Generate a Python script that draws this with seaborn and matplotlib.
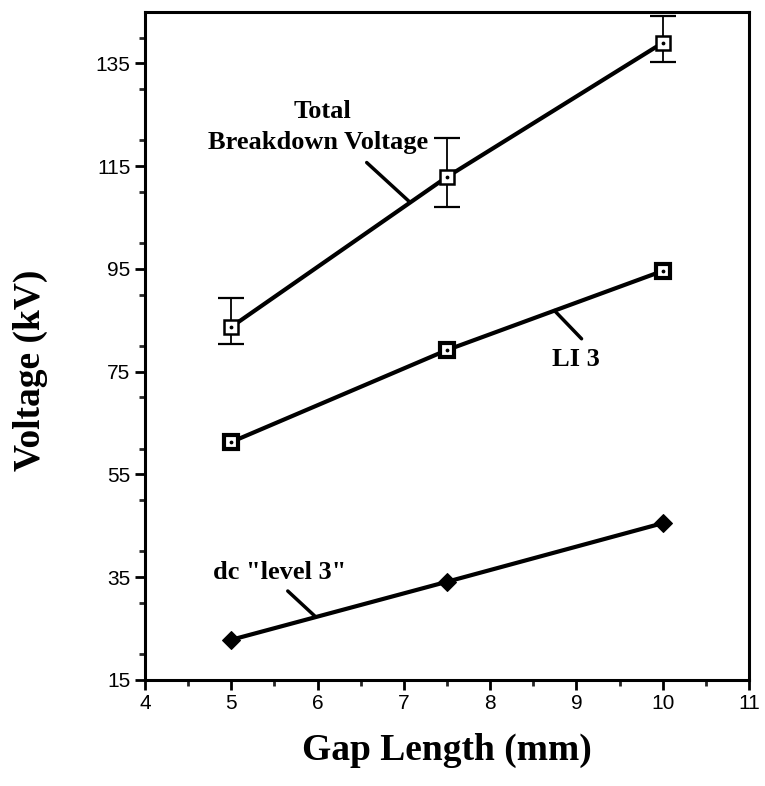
import numpy as np
import pandas as pd
import matplotlib
matplotlib.use("Agg")
import matplotlib.pyplot as plt
import seaborn as sns
from matplotlib.ticker import MultipleLocator

gap_mm = [5.0, 7.5, 10.0]
total_kv = [83.7, 112.9, 139.0]
total_err_hi = [89.3, 120.4, 144.2]
total_err_lo = [80.4, 107.0, 135.2]
li3_kv = [61.3, 79.2, 94.6]
dc_kv = [22.8, 34.1, 45.5]

x_ticks = [4, 5, 6, 7, 8, 9, 10, 11]
y_ticks = [15, 35, 55, 75, 95, 115, 135]

sns.set_theme(style="ticks")
plt.rcParams['font.family'] = ['Liberation Sans', 'DejaVu Sans']
plt.rcParams['text.color'] = 'black'
plt.rcParams['axes.labelcolor'] = 'black'

df = pd.DataFrame({
    "gap": gap_mm * 3,
    "kv": total_kv + li3_kv + dc_kv,
    "series": ["Total"] * 3 + ["LI 3"] * 3 + ["dc"] * 3,
})

fig = plt.figure(figsize=(7.65, 7.86), dpi=100)
ax = fig.add_axes([0.1895, 0.135, 0.7895, 0.8497])

# error bars for total
err_lo = np.array(total_kv) - np.array(total_err_lo)
err_hi = np.array(total_err_hi) - np.array(total_kv)
ax.errorbar(gap_mm, total_kv, yerr=[err_lo, err_hi], fmt='none', ecolor='black',
            elinewidth=1.3, capsize=9.5, capthick=1.6, zorder=2)

sns.lineplot(data=df[df.series == "Total"], x="gap", y="kv", ax=ax, color="black",
             linewidth=3.0, marker="s", markersize=10, markerfacecolor="white",
             markeredgecolor="black", markeredgewidth=1.8, zorder=3, legend=False)
sns.lineplot(data=df[df.series == "LI 3"], x="gap", y="kv", ax=ax, color="black",
             linewidth=3.0, marker="s", markersize=10, markerfacecolor="white",
             markeredgecolor="black", markeredgewidth=3.0, zorder=3, legend=False)
sns.lineplot(data=df[df.series == "dc"], x="gap", y="kv", ax=ax, color="black",
             linewidth=3.0, marker="D", markersize=9, markerfacecolor="black",
             markeredgecolor="black", zorder=3, legend=False)
# center dots for square markers
sub = df[df.series.isin(["Total", "LI 3"])]
ax.scatter(sub.gap, sub.kv, s=3, color="black", zorder=4)

ax.set_xlim(4, 11)
ax.set_ylim(15, 145)
ax.set_xticks(x_ticks)
ax.set_yticks(y_ticks)
ax.xaxis.set_minor_locator(MultipleLocator(0.5))
ax.yaxis.set_minor_locator(MultipleLocator(10))
ax.tick_params(axis='both', which='major', direction='out', length=7, width=2,
               labelsize=15, colors='black')
ax.tick_params(axis='both', which='minor', direction='out', length=4, width=2)
for s in ax.spines.values():
    s.set_linewidth(2.2)
    s.set_color('black')

serif = ['Liberation Serif', 'DejaVu Serif']
ax.set_xlabel("Gap Length (mm)", family=serif, fontweight='bold', fontsize=27,
              labelpad=14, color='black')
ax.set_ylabel("Voltage (kV)", family=serif, fontweight='bold', fontsize=27, color='black')
ax.yaxis.set_label_coords(-0.16, 0.463)

ann = dict(family=serif, fontweight='bold', fontsize=19, ha='center', va='center', color='black')
ax.text(6.06, 125.6, "Total", **ann)
ax.text(6.01, 119.6, "Breakdown Voltage", **ann)
ax.plot([6.57, 7.07], [115.7, 108.0], color='black', lw=2.5)
ax.text(9.0, 77.3, "LI 3", **ann)
ax.plot([8.745, 9.06], [86.9, 81.4], color='black', lw=2.5)
ax.text(5.56, 36.0, "dc \"level 3\"", **ann)
ax.plot([5.655, 5.97], [32.3, 27.4], color='black', lw=2.5)

fig.savefig("out.png", dpi=100)
